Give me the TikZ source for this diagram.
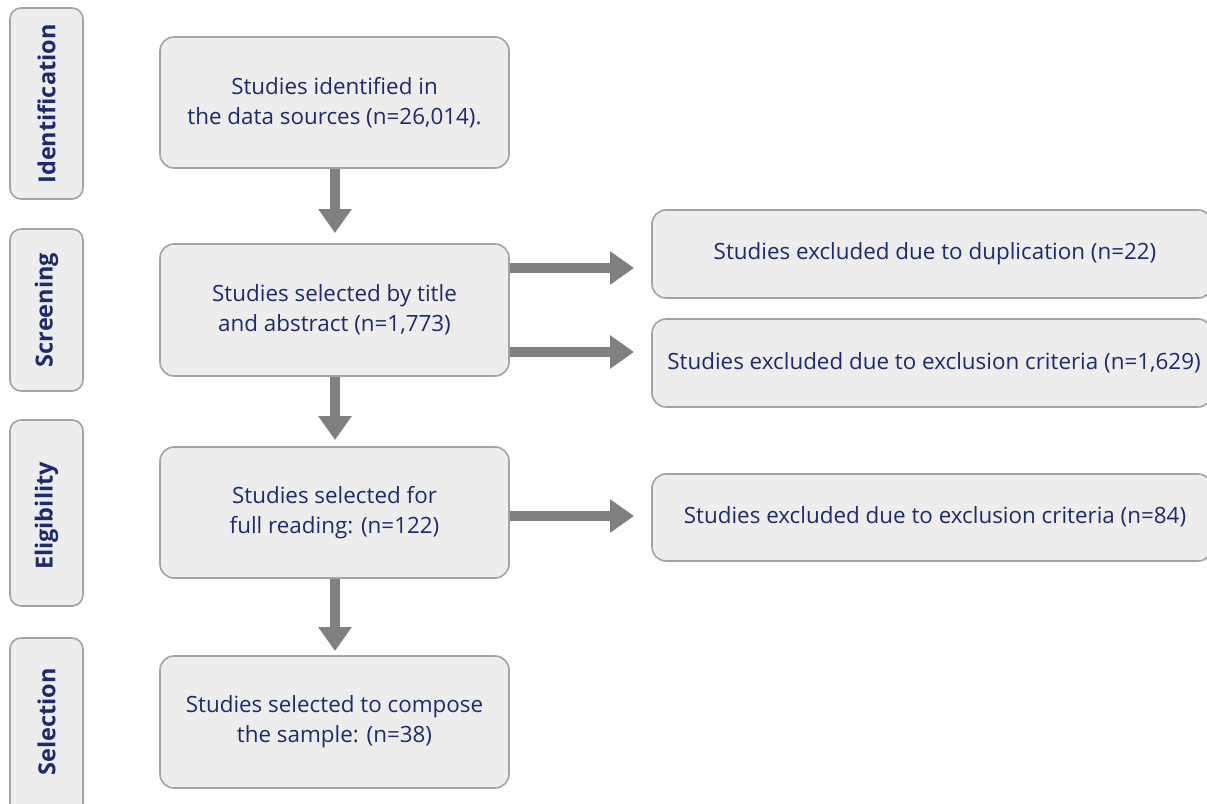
\documentclass[tikz,border=0pt]{standalone}
\usepackage{fontspec}
\setmainfont{Open Sans}
\usetikzlibrary{arrows.meta,calc}
\definecolor{boxfill}{HTML}{EDEDED}
\definecolor{boxline}{HTML}{A3A3A3}
\definecolor{navy}{HTML}{1D2A6E}
\definecolor{arrowgray}{HTML}{808080}
\tikzset{
  box/.style={draw=boxline,fill=boxfill,line width=1.6pt,rounded corners=14pt,align=center,text=navy,font=\fontsize{22.4}{30}\selectfont,inner sep=0pt},
  stagebox/.style={draw=boxline,fill=boxfill,line width=1.6pt,rounded corners=11pt},
  stagetext/.style={text=navy,font=\fontsize{23.5}{24}\selectfont\bfseries,rotate=90},
  bigarrow/.style={draw=arrowgray,line width=10pt,-{Triangle[length=24pt,width=32pt]}},
}
\begin{document}
\begin{tikzpicture}[x=1pt,y=-1pt]
\useasboundingbox (0,0) rectangle (1207,803);
% stage boxes
\draw[stagebox] (10,8) rectangle (83,199);
\node[stagetext] (s1) at (46.5,104) {Identification};
\draw[stagebox] (10,229) rectangle (83,391);
\node[stagetext] (s2) at (46.5,310) {Screening};
\draw[stagebox] (10,420) rectangle (83,606);
\node[stagetext] (s3) at (46.5,516) {Eligibility};
\draw[stagebox] (10,638) rectangle (83,815);
\node[stagetext] (s4) at (46.5,722) {Selection};
% main boxes
\node[box,minimum width=349pt,minimum height=131pt] (b1) at (334.5,102.5) {Studies identified in\\the data sources (n=26,014).};
\node[box,minimum width=349pt,minimum height=132pt] (b2) at (334.5,310) {Studies selected by title\\and abstract (n=1,773)};
\node[box,minimum width=349pt,minimum height=131pt] (b3) at (334.5,512.5) {Studies selected for\\full reading: (n=122)};
\node[box,minimum width=349pt,minimum height=132pt] (b4) at (334.5,722) {Studies selected to compose\\the sample: (n=38)};
% right boxes
\node[box,minimum width=560pt,minimum height=88pt] (r1) at (932,254) {};
\node[text=navy,font=\fontsize{22.4}{30}\selectfont] (t1) at (935,254) {Studies excluded due to duplication (n=22)};
\node[box,minimum width=560pt,minimum height=88pt] (r2) at (932,363) {};
\node[text=navy,font=\fontsize{22.4}{30}\selectfont] (t2) at (934,363) {Studies excluded due to exclusion criteria (n=1,629)};
\node[box,minimum width=560pt,minimum height=87pt] (r3) at (932,517.5) {};
\node[text=navy,font=\fontsize{22.4}{30}\selectfont] (t3) at (935,517) {Studies excluded due to exclusion criteria (n=84)};
% arrows
\coordinate (v1) at (335,233);
\coordinate (v2) at (335,440);
\coordinate (v3) at (335,651);
\draw[bigarrow] (b1.south -| v1) -- (v1);
\draw[bigarrow] (b2.south -| v2) -- (v2);
\draw[bigarrow] (b3.south -| v3) -- (v3);
\coordinate (h1) at (634,268);
\coordinate (h2) at (634,352);
\coordinate (h3) at (634,516);
\draw[bigarrow] (b2.east |- h1) -- (h1);
\draw[bigarrow] (b2.east |- h2) -- (h2);
\draw[bigarrow] (b3.east |- h3) -- (h3);
\end{tikzpicture}
\end{document}
